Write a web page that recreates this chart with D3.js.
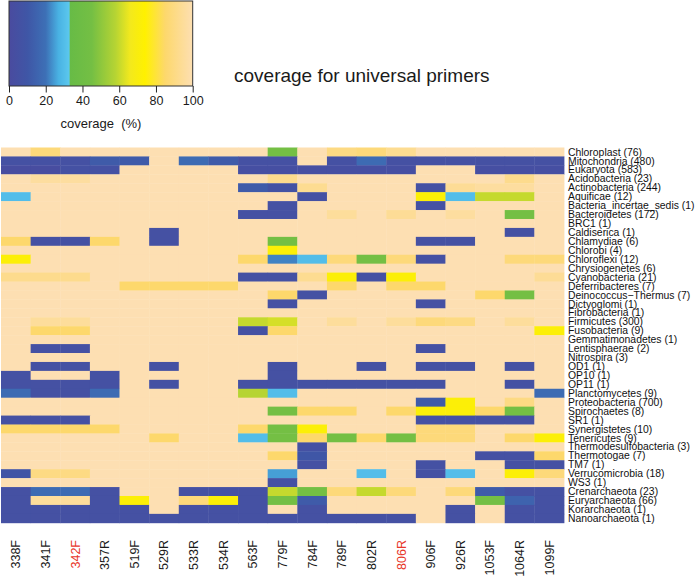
<!DOCTYPE html>
<html><head><meta charset="utf-8">
<script src="https://cdn.jsdelivr.net/npm/d3@7"></script>
<style>html,body{margin:0;padding:0;background:#fff;}svg{display:block;font-family:"Liberation Sans",Arial,sans-serif;}</style>
</head><body>
<script>
const primers = ["338F","341F","342F","357R","519F","529R","533R","534R","563F","779F","784F","789F","802R","806R","906F","926R","1053F","1064R","1099F"];
const highlighted = ["342F","806R"];
const taxa = ["Chloroplast (76)","Mitochondria (480)","Eukaryota (583)","Acidobacteria (23)","Actinobacteria (244)","Aquificae (12)","Bacteria_incertae_sedis (1)","Bacteroidetes (172)","BRC1 (1)","Caldiserica (1)","Chlamydiae (6)","Chlorobi (4)","Chloroflexi (12)","Chrysiogenetes (6)","Cyanobacteria (21)","Deferribacteres (7)","Deinococcus\u2212Thermus (7)","Dictyoglomi (1)","Fibrobacteria (1)","Firmicutes (300)","Fusobacteria (9)","Gemmatimonadetes (1)","Lentisphaerae (2)","Nitrospira (3)","OD1 (1)","OP10 (1)","OP11 (1)","Planctomycetes (9)","Proteobacteria (700)","Spirochaetes (8)","SR1 (1)","Synergistetes (10)","Tenericutes (9)","Thermodesulfobacteria (3)","Thermotogae (7)","TM7 (1)","Verrucomicrobia (18)","WS3 (1)","Crenarchaeota (23)","Euryarchaeota (66)","Korarchaeota (1)","Nanoarchaeota (1)"];
// coverage (%) per taxon row, one value per primer column
const coverage = [
 [100, 88,100,100,100,100,100,100,100, 45,100, 90, 88, 93,100,100,100,100,100],
 [  5,  5,  5, 12, 12,100, 18, 12,  5,  5,100,  5, 18,  5,  5,  5,  5,  5,  5],
 [  2,  2,  5,  5,100,100,100,100,  4,  4,  4,  4,  4,  4,100,100,  4,  4,  4],
 [100, 96, 96,100,100,100,100,100,100, 92,100,100,100,100,100,100,100, 92,100],
 [100,100,100,100,100,100,100,100, 12,  6, 93,100,100,100,  5, 94, 96, 96,100],
 [ 30,100,100,100,100,100,100,100,100,100,  5,100,100,100, 72, 30, 60, 60,100],
 [100,100,100,100,100,100,100,100,100,  5,100,100,100,100,  5,100,100,100,100],
 [100,100,100,100,100,100,100,100,  5,  5,100, 95,100, 94,100, 96,100, 45,100],
 [100,100,100,100,100,100,100,100,100,100,100,100,100,100,100,100,100,100,100],
 [100,100,100,100,100,  5,100,100,100,100,100,100,100,100,100,100,100,  5,100],
 [ 85,  5,  5, 85,100,  5,100,100,100, 45,100,100,100,100,  5,  5,100,100,100],
 [100,100,100,100,100,100,100,100,100, 72,100,100,100,100,100,100,100,100,100],
 [ 72,100,100,100,100,100,100,100, 85, 22, 30, 88, 45, 88,  5,100,100, 88, 88],
 [100,100,100,100,100,100,100,100,100,100,100,100,100,100,100,100,100,100,100],
 [ 92, 92, 92,100,100,100,100,100,  5,  5, 93, 72,  5, 72,100,100,100,100, 94],
 [100,100,100,100, 85, 85, 85, 85,100,100,100, 85,100, 85, 85,100,100,100,100],
 [100,100,100,100,100,100,100,100,100, 85,  5,100,100,100,100,100, 85, 45,100],
 [100,100,100,100,100,100,100,100,100,  5,100,100,100,100,  5,100,100,100,100],
 [100,100,100,100,100,100,100,100,100,100,100,100,100,100,100,100,100,100,100],
 [100, 95, 95,100,100,100,100,100, 60, 62,100, 95,100, 95, 88, 90,100, 95,100],
 [100, 85, 85,100,100,100,100,100,  5, 85,100,100,100,100,100,100,100,100, 72],
 [100,100,100,100,100,100,100,100,100,100,100,100,100,100,100,100,100,100,100],
 [100,  5,  5,100,100,100,100,100,100,100,100,100,100,100,  5,100,100,100,100],
 [100,100,100,100,100,100,100,100,100,100,100,100,100,100,100,100,100,100,100],
 [100,  5,  5,100,100,  5,100,100,100,  5,100,100,  5,100,  5,  5,100,  5,100],
 [  5,100,100,  5,100,100,100,100,100,  5,100,100,100,100,100,100,100,100,100],
 [  5,  5,  5,  5,100,  5,100,100,  5,  5,  5,  5,  5,  5,  5,100,100,  5,100],
 [ 18,  5,  5, 18,100,100,100,100, 58, 30,100,100,100,100,100,100,100,100, 18],
 [100,100,100,100,100,100,100,100,100,100,100,100,100,100, 12, 72,100, 90,100],
 [100,100,100,100,100,100,100,100,100, 45, 85, 85,100, 85, 72, 72, 85, 45,100],
 [  5,  5,  5,100,100,100,100,100,100,100,100,100,100,100,  5,  5,  5,  5,100],
 [ 85, 85, 85, 85,100,100,100,100, 85, 45, 72,100,100,100, 88, 88,100,100,100],
 [100,100,100,100,100, 85,100,100, 30, 45, 85, 45, 85, 45, 88, 88,100, 85, 72],
 [100,100,100,100,100,100,100,100,100,100,  5,100,100,100,100,100,100,100,100],
 [100,100,100,100,100,100,100,100,100, 85, 10,100,100,100,100,100,  5,  5, 85],
 [100,100,100,100,100,100,100,100,100,100,  5,100,100,100,  5,100,100,  5,  5],
 [  8, 90, 90,100,100,100,100,100,100, 25,100,100, 30,100,  5, 30,100, 72, 88],
 [100,100,100,100,100,100,100,100,100,  5,100,100,100,100,100,100,100,100,100],
 [  5, 18, 18,  5,100,100,  5,  5,  5, 60, 45, 88, 60, 88,100, 88, 12,  5,  5],
 [  5, 95, 95,  5, 72,100, 88, 72,  5, 45, 12,100,100,100,100,100, 45, 15,  5],
 [  5,  5,  5,  5,  5,100,  5,  5,  5,100,  5,100,100,100,100,  5,100,  5,  5],
 [  5,  5,  5,  5,  5,  5,  5,  5,  5,  5,  5,  5,  5,  5,100,  5,100,  5,  5]
];
const legendTicks = [0,20,40,60,80,100];
const colorStops = [0,10,20,27,32.9,33,45,58,66,74,85,100];
const colorValues = ["#4a4b9f","#3f56a6","#3d70b6","#49b2e3","#5cc8ee","#67bb46","#74bf44","#b6d433","#f3e91d","#fff100","#fdd86c","#fddfb2"];

const W = 700, H = 578;
const svg = d3.select("body").append("svg").attr("width", W).attr("height", H);
const color = d3.scaleLinear().domain(colorStops).range(colorValues).clamp(true);

// heatmap
const x = d3.scaleBand().domain(primers).range([1, 564]);
const y = d3.scaleBand().domain(taxa).range([147.5, 522.8]);
const cells = [];
coverage.forEach((row, i) => row.forEach((v, j) => cells.push({t: taxa[i], p: primers[j], v})));
svg.append("g").selectAll("rect").data(cells).join("rect")
  .attr("x", d => x(d.p)).attr("y", d => y(d.t))
  .attr("width", x.bandwidth() + 0.4).attr("height", y.bandwidth() + 0.4)
  .attr("fill", d => color(d.v));

// row labels
svg.append("g").selectAll("text").data(taxa).join("text")
  .attr("x", 568).attr("y", d => y(d) + y.bandwidth() / 2).attr("dy", "0.35em")
  .attr("font-size", 10.4).attr("fill", "#111").text(d => d);

// column labels
svg.append("g").selectAll("text").data(primers).join("text")
  .attr("transform", d => `translate(${x(d) + x.bandwidth() / 2},540) rotate(-90)`)
  .attr("text-anchor", "end").attr("dy", "0.36em")
  .attr("font-size", 12.5)
  .attr("fill", d => highlighted.includes(d) ? "#e8372b" : "#1a1a1a")
  .text(d => d);

// legend
const lx = d3.scaleLinear().domain([0, 100]).range([9, 192.7]);
const defs = svg.append("defs");
const grad = defs.append("linearGradient").attr("id", "lg").attr("x1", "0%").attr("x2", "100%");
colorStops.forEach((s, i) => grad.append("stop").attr("offset", s + "%").attr("stop-color", colorValues[i]));
svg.append("rect").attr("x", lx(0)).attr("y", 1).attr("width", lx(100) - lx(0)).attr("height", 85)
  .attr("fill", "url(#lg)").attr("stroke", "#333").attr("stroke-width", 1);
const axis = svg.append("g").attr("transform", "translate(0,86)")
  .call(d3.axisBottom(lx).tickValues(legendTicks).tickSize(6.5).tickPadding(4));
axis.select(".domain").remove();
axis.selectAll("line").attr("stroke", "#222");
axis.selectAll("text").attr("font-size", 12.5).attr("fill", "#1a1a1a").attr("font-family", "Liberation Sans, Arial, sans-serif");
svg.append("text").attr("x", 101).attr("y", 128).attr("text-anchor", "middle")
  .attr("font-size", 13).attr("fill", "#1a1a1a").style("white-space", "pre")
  .text("coverage  (%)");

// title
svg.append("text").attr("x", 234).attr("y", 82).attr("font-size", 19).attr("fill", "#1a1a1a")
  .text("coverage for universal primers");
</script>
</body></html>
